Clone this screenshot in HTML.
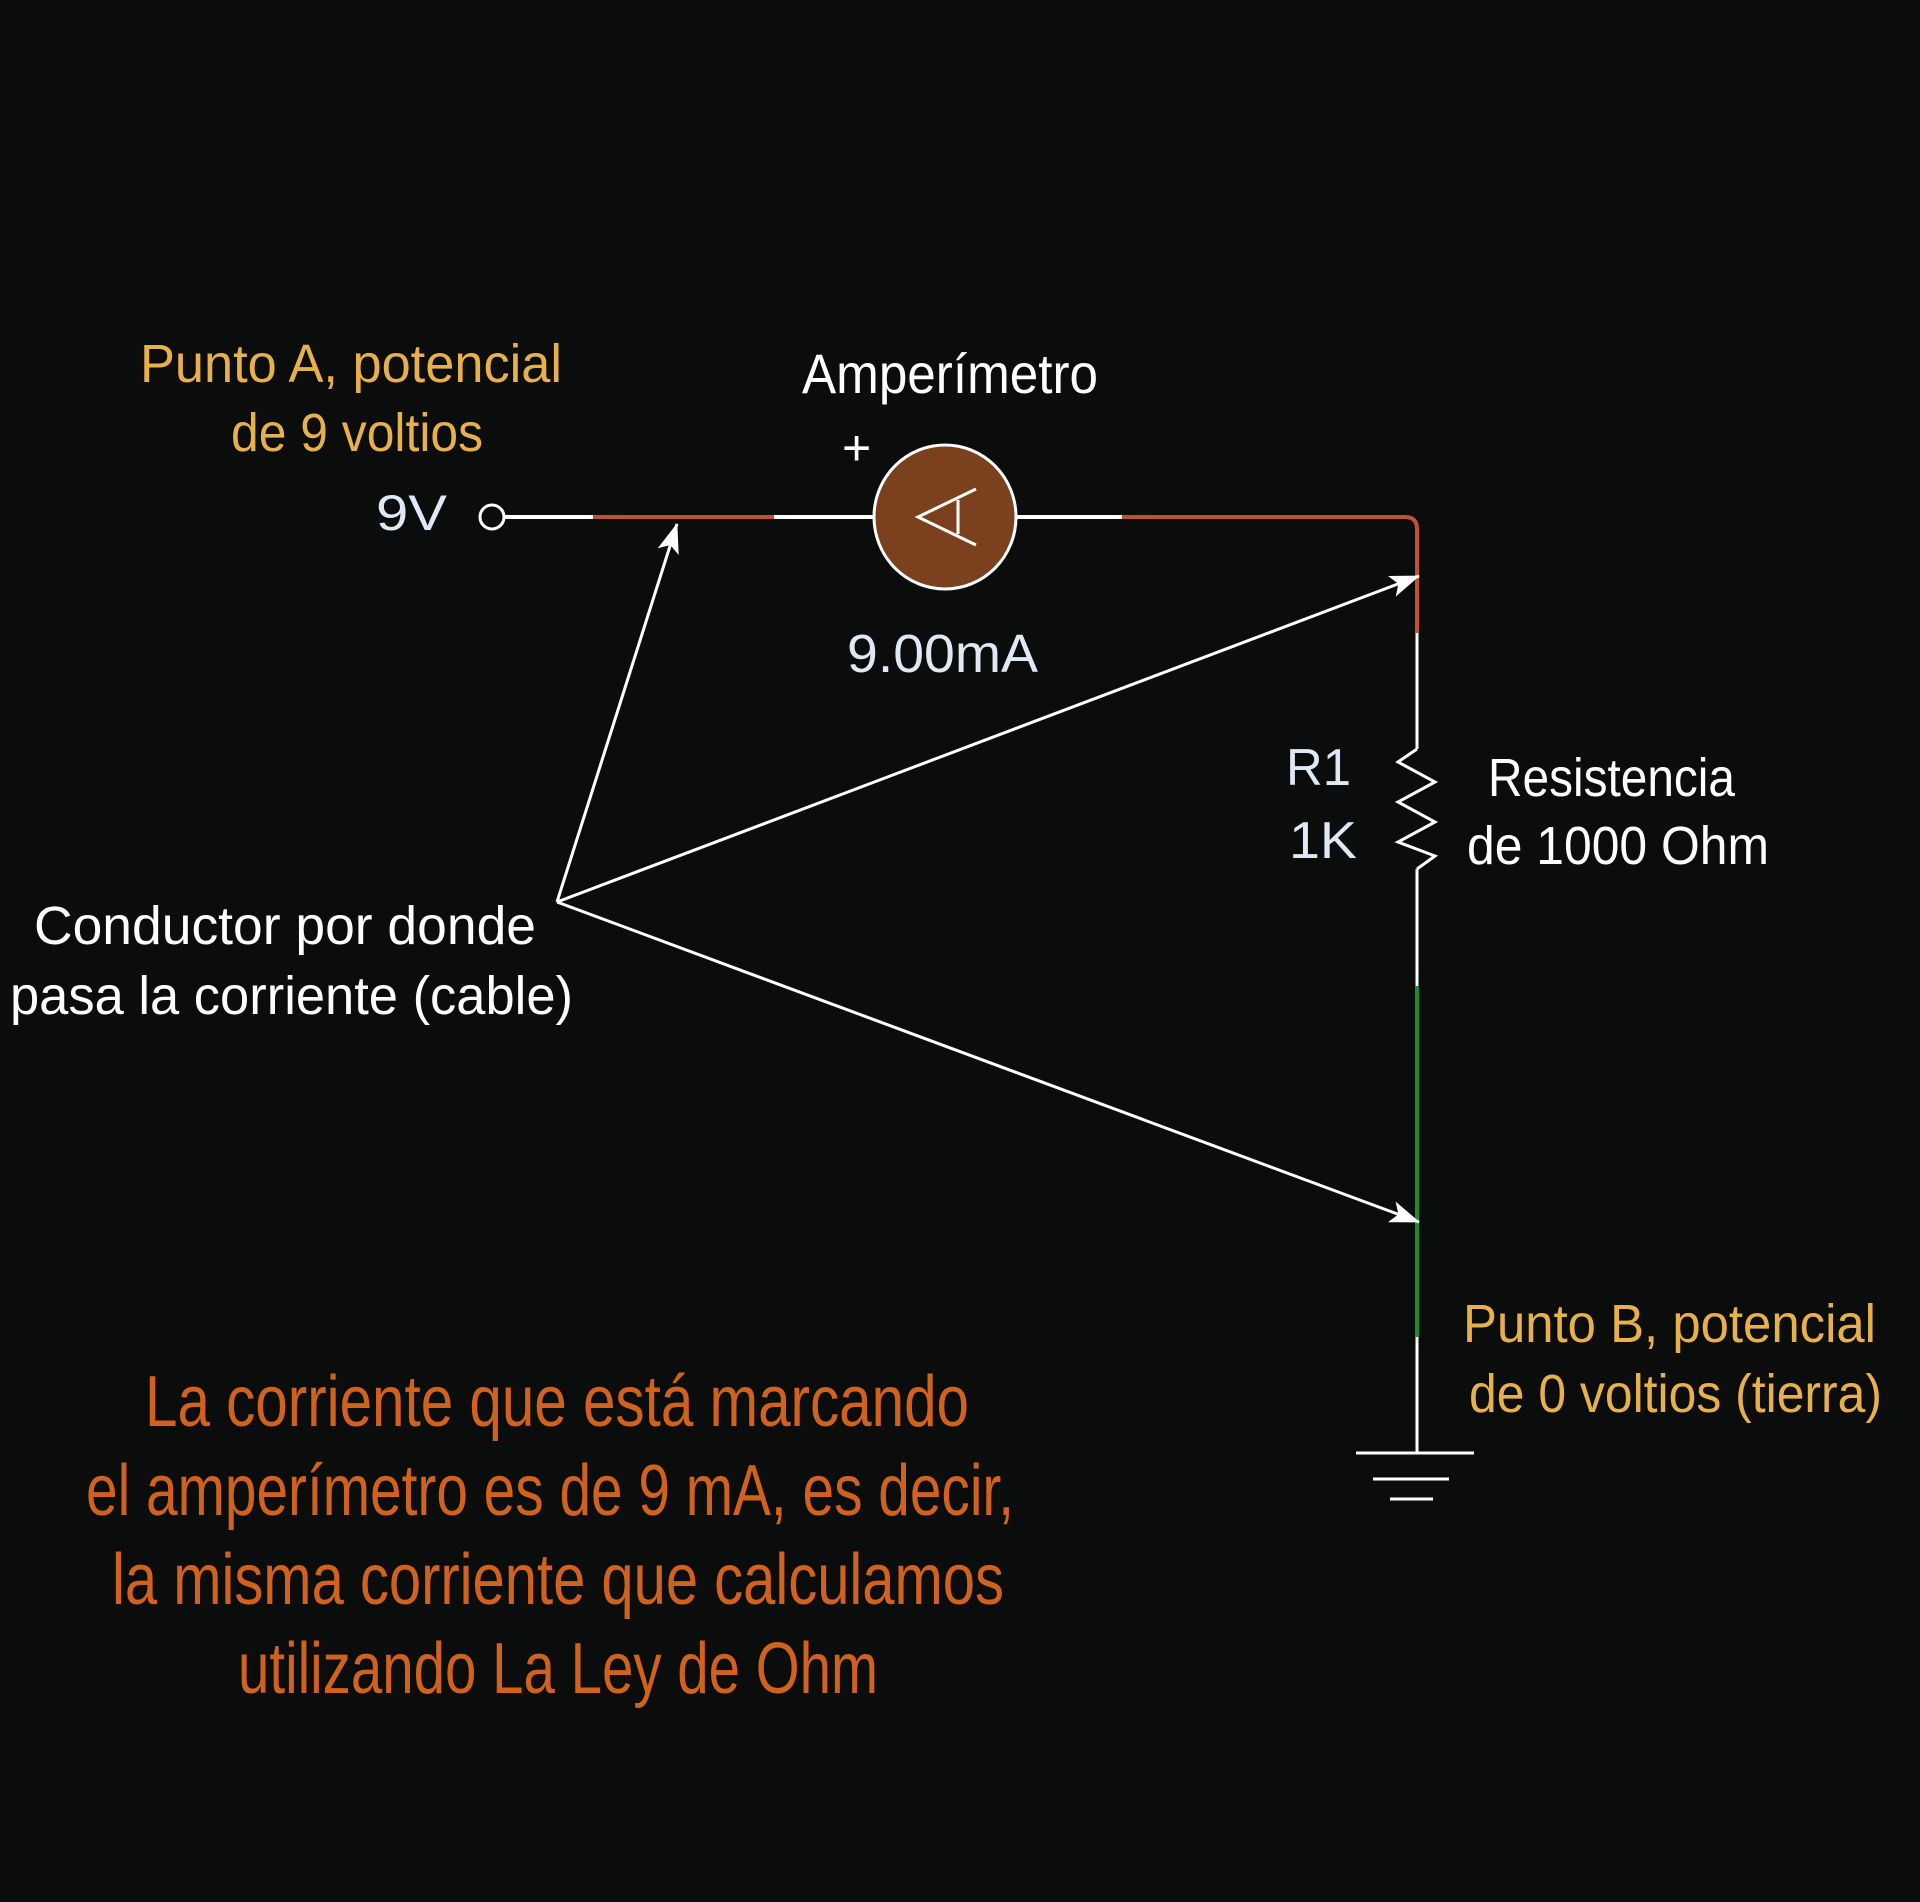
<!DOCTYPE html>
<html><head><meta charset="utf-8"><style>
html,body{margin:0;padding:0;background:#0b0d0d;}
svg{display:block;}
text{font-family:"Liberation Sans",sans-serif;}
</style></head><body>
<svg width="1920" height="1902" viewBox="0 0 1920 1902" xmlns="http://www.w3.org/2000/svg">
<rect width="1920" height="1902" fill="#0b0d0d"/>
<defs>
<marker id="ah" viewBox="0 0 30 22" refX="29" refY="11" markerWidth="30" markerHeight="22" markerUnits="userSpaceOnUse" orient="auto">
<path d="M0,0 L30,11 L0,22 L7,11 Z" fill="#fff"/>
</marker>
</defs>
<circle cx="492" cy="517" r="12" fill="none" stroke="#fff" stroke-width="3"/>
<line x1="504" y1="517" x2="874" y2="517" stroke="#fff" stroke-width="4"/>
<line x1="593" y1="517" x2="774" y2="517" stroke="#c0503a" stroke-width="4"/>
<line x1="1017" y1="517" x2="1122" y2="517" stroke="#fff" stroke-width="4"/>
<path d="M1122,517 L1405,517 Q1417,517 1417,529 L1417,633" fill="none" stroke="#c0503a" stroke-width="4"/>
<line x1="1417" y1="633" x2="1417" y2="749" stroke="#fff" stroke-width="3"/>
<polyline points="1417,749 1398,762 1435,782 1398,802 1435,822 1398,842 1435,856 1417,869" fill="none" stroke="#fff" stroke-width="3"/>
<line x1="1417" y1="869" x2="1417" y2="986" stroke="#fff" stroke-width="3"/>
<line x1="1417" y1="986" x2="1417" y2="1337" stroke="#1f8a34" stroke-width="4"/>
<line x1="1417" y1="1337" x2="1417" y2="1453" stroke="#fff" stroke-width="3"/>
<line x1="1356" y1="1453" x2="1474" y2="1453" stroke="#fff" stroke-width="3"/>
<line x1="1373" y1="1479" x2="1449" y2="1479" stroke="#fff" stroke-width="3"/>
<line x1="1390" y1="1499" x2="1433" y2="1499" stroke="#fff" stroke-width="3"/>
<ellipse cx="945" cy="517" rx="71" ry="72" fill="#7b411f" stroke="#fff" stroke-width="3"/>
<polyline points="976,489 918,517 976,545" fill="none" stroke="#fff" stroke-width="3"/>
<line x1="958" y1="500" x2="958" y2="534" stroke="#fff" stroke-width="3"/>
<line x1="557" y1="902" x2="677" y2="524" stroke="#fff" stroke-width="3" marker-end="url(#ah)"/>
<line x1="557" y1="902" x2="1419" y2="576" stroke="#fff" stroke-width="3" marker-end="url(#ah)"/>
<line x1="557" y1="902" x2="1419" y2="1222" stroke="#fff" stroke-width="3" marker-end="url(#ah)"/>
<text x="140" y="382" font-size="54" fill="#e8b04a" textLength="422" lengthAdjust="spacingAndGlyphs">Punto A, potencial</text>
<text x="231" y="451" font-size="54" fill="#e8b04a" textLength="252" lengthAdjust="spacingAndGlyphs">de 9 voltios</text>
<text x="376" y="530" font-size="50" fill="#dfe8f5" textLength="71" lengthAdjust="spacingAndGlyphs">9V</text>
<text x="802" y="393" font-size="56" fill="#fff" textLength="296" lengthAdjust="spacingAndGlyphs">Amperímetro</text>
<text x="842" y="465" font-size="50" fill="#fff">+</text>
<text x="847" y="672" font-size="54" fill="#dfe8f5" textLength="191" lengthAdjust="spacingAndGlyphs">9.00mA</text>
<text x="1286" y="785" font-size="52" fill="#dfe8f5" textLength="65" lengthAdjust="spacingAndGlyphs">R1</text>
<text x="1289" y="858" font-size="52" fill="#dfe8f5" textLength="68" lengthAdjust="spacingAndGlyphs">1K</text>
<text x="1488" y="796" font-size="54" fill="#fff" textLength="247" lengthAdjust="spacingAndGlyphs">Resistencia</text>
<text x="1467" y="864" font-size="54" fill="#fff" textLength="302" lengthAdjust="spacingAndGlyphs">de 1000 Ohm</text>
<text x="34" y="944" font-size="54" fill="#fff" textLength="502" lengthAdjust="spacingAndGlyphs">Conductor por donde</text>
<text x="10" y="1014" font-size="54" fill="#fff" textLength="563" lengthAdjust="spacingAndGlyphs">pasa la corriente (cable)</text>
<text x="1463" y="1342" font-size="54" fill="#e8b04a" textLength="413" lengthAdjust="spacingAndGlyphs">Punto B, potencial</text>
<text x="1469" y="1412" font-size="54" fill="#e8b04a" textLength="413" lengthAdjust="spacingAndGlyphs">de 0 voltios (tierra)</text>
<g font-size="72" fill="#d0621e">
<text x="145" y="1426" textLength="824" lengthAdjust="spacingAndGlyphs">La corriente que está marcando</text>
<text x="86" y="1515" textLength="928" lengthAdjust="spacingAndGlyphs">el amperímetro es de 9 mA, es decir,</text>
<text x="112" y="1604" textLength="892" lengthAdjust="spacingAndGlyphs">la misma corriente que calculamos</text>
<text x="238" y="1693" textLength="640" lengthAdjust="spacingAndGlyphs">utilizando La Ley de Ohm</text>
</g>
</svg>
</body></html>
